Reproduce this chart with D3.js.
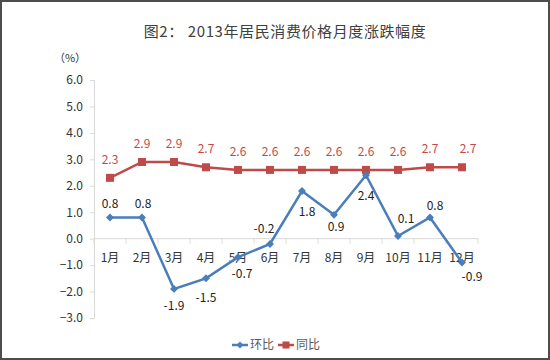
<!DOCTYPE html>
<html>
<head>
<meta charset="utf-8">
<script src="https://cdn.jsdelivr.net/npm/d3@7"></script>
<style>
  body { margin: 0; background: #fff; }
  text { font-family: "Noto Sans CJK SC", "Noto Sans", sans-serif; }
</style>
</head>
<body>
<div id="wrapper"></div>
<script>
// data
const months = ["1月", "2月", "3月", "4月", "5月", "6月", "7月", "8月", "9月", "10月", "11月", "12月"]
const huanbi = [0.8, 0.8, -1.9, -1.5, -0.7, -0.2, 1.8, 0.9, 2.4, 0.1, 0.8, -0.9]
const tongbi = [2.3, 2.9, 2.9, 2.7, 2.6, 2.6, 2.6, 2.6, 2.6, 2.6, 2.7, 2.7]
const yTicks = [-3, -2, -1, 0, 1, 2, 3, 4, 5, 6]

// label placement for the blue series [dx, dy]
const huanbiLabelPos = [[0, -14], [1, -14], [0, 17], [0, 19], [4, 17], [-6, -15], [5, 21], [2, 12], [0, 21], [8, -17], [5, -12], [10, 14]]
const tongbiLabelDx = [0, 0, 0, 0, 0, 0, 0, 0, 0, 0, 0, 6]

const width = 550
const height = 360
const dimensions = {
  margin: { top: 80, right: 72, bottom: 42, left: 94 },
}
dimensions.boundedWidth = width - dimensions.margin.left - dimensions.margin.right
dimensions.boundedHeight = height - dimensions.margin.top - dimensions.margin.bottom

const wrapper = d3.select("#wrapper")
  .append("svg")
    .attr("width", width)
    .attr("height", height)

// frame
wrapper.append("rect")
    .attr("x", 1)
    .attr("y", 1)
    .attr("width", width - 2)
    .attr("height", height - 2)
    .attr("fill", "#fff")
    .attr("stroke", "#4d4d4d")
    .attr("stroke-width", 2)

// title
wrapper.append("text")
    .attr("x", 285)
    .attr("y", 37)
    .attr("text-anchor", "middle")
    .attr("font-size", 15)
    .attr("fill", "#404040")
    .style("letter-spacing", "0.6px")
    .text("图2： 2013年居民消费价格月度涨跌幅度")

wrapper.append("text")
    .attr("x", 70)
    .attr("y", 62)
    .attr("text-anchor", "middle")
    .attr("font-size", 11)
    .attr("fill", "#333")
    .text("（%）")

const bounds = wrapper.append("g")
    .attr("transform", `translate(${dimensions.margin.left},${dimensions.margin.top})`)

// scales
const yScale = d3.scaleLinear()
  .domain([-3, 6])
  .range([dimensions.boundedHeight, 0])

const xBand = d3.scaleBand()
  .domain(months)
  .range([0, 384])

const xScale = d => xBand(d) + xBand.bandwidth() / 2

// y axis
const yAxis = bounds.append("g")
  .call(d3.axisLeft(yScale).tickValues(yTicks).tickFormat(d3.format(".1f")).tickSize(4).tickPadding(7))
yAxis.select(".domain").attr("stroke", "#d9d9d9")
yAxis.selectAll(".tick line").attr("stroke", "#d9d9d9")
yAxis.selectAll(".tick text")
    .attr("font-size", 12)
    .attr("fill", "#333")
    .attr("font-family", "'Noto Sans', sans-serif")

// x axis on zero line
const xAxis = bounds.append("g")
    .attr("transform", `translate(0,${yScale(0)})`)
xAxis.append("line")
    .attr("x1", 0)
    .attr("x2", xBand.range()[1])
    .attr("stroke", "#d9d9d9")
xAxis.selectAll(".xtick")
  .data(months.concat(["end"]))
  .join("line")
    .attr("class", "xtick")
    .attr("x1", (d, i) => i * xBand.step())
    .attr("x2", (d, i) => i * xBand.step())
    .attr("y1", 0)
    .attr("y2", 5)
    .attr("stroke", "#d9d9d9")
xAxis.selectAll(".xlabel")
  .data(months)
  .join("text")
    .attr("class", "xlabel")
    .attr("x", d => xScale(d))
    .attr("y", 23)
    .attr("text-anchor", "middle")
    .attr("font-size", 12)
    .attr("fill", "#333")
    .text(d => d)

// lines
const blue = "#4a7ebb"
const red = "#be4b48"

const lineGen = d3.line()
  .x((d, i) => xScale(months[i]))
  .y(d => yScale(d))

bounds.append("path")
    .datum(tongbi)
    .attr("d", lineGen)
    .attr("fill", "none")
    .attr("stroke", red)
    .attr("stroke-width", 2.5)

bounds.selectAll(".tb-marker")
  .data(tongbi)
  .join("rect")
    .attr("class", "tb-marker")
    .attr("x", (d, i) => xScale(months[i]) - 4)
    .attr("y", d => yScale(d) - 4)
    .attr("width", 8)
    .attr("height", 8)
    .attr("fill", red)

bounds.selectAll(".tb-label")
  .data(tongbi)
  .join("text")
    .attr("class", "tb-label")
    .attr("x", (d, i) => xScale(months[i]) + tongbiLabelDx[i])
    .attr("y", d => yScale(d) - 14)
    .attr("text-anchor", "middle")
    .attr("font-size", 12)
    .attr("fill", red)
    .attr("font-family", "'Noto Sans', sans-serif")
    .text(d => d.toFixed(1))

bounds.append("path")
    .datum(huanbi)
    .attr("d", lineGen)
    .attr("fill", "none")
    .attr("stroke", blue)
    .attr("stroke-width", 2.5)

bounds.selectAll(".hb-marker")
  .data(huanbi)
  .join("path")
    .attr("class", "hb-marker")
    .attr("d", d3.symbol(d3.symbolDiamond2, 40))
    .attr("transform", (d, i) => `translate(${xScale(months[i])},${yScale(d)})`)
    .attr("fill", blue)

bounds.selectAll(".hb-label")
  .data(huanbi)
  .join("text")
    .attr("class", "hb-label")
    .attr("x", (d, i) => xScale(months[i]) + huanbiLabelPos[i][0])
    .attr("y", (d, i) => yScale(d) + huanbiLabelPos[i][1])
    .attr("dy", "0.35em")
    .attr("text-anchor", "middle")
    .attr("font-size", 12)
    .attr("fill", "#222")
    .attr("font-family", "'Noto Sans', sans-serif")
    .text(d => d.toFixed(1))

// legend
const legend = wrapper.append("g")
    .attr("transform", "translate(232,345)")
const legendItems = [
  { name: "环比", color: blue, x: 0, shape: "diamond" },
  { name: "同比", color: red, x: 46, shape: "square" },
]
const items = legend.selectAll("g")
  .data(legendItems)
  .join("g")
    .attr("transform", d => `translate(${d.x},0)`)
items.append("line")
    .attr("x1", 0)
    .attr("x2", 16)
    .attr("stroke", d => d.color)
    .attr("stroke-width", 2.5)
items.append("path")
    .attr("d", d => d3.symbol(d.shape == "diamond" ? d3.symbolDiamond2 : d3.symbolSquare, d.shape == "diamond" ? 30 : 50)())
    .attr("transform", "translate(8,0)")
    .attr("fill", d => d.color)
items.append("text")
    .attr("x", 18)
    .attr("dy", "0.35em")
    .attr("font-size", 12)
    .attr("fill", "#595959")
    .text(d => d.name)
</script>
</body>
</html>
